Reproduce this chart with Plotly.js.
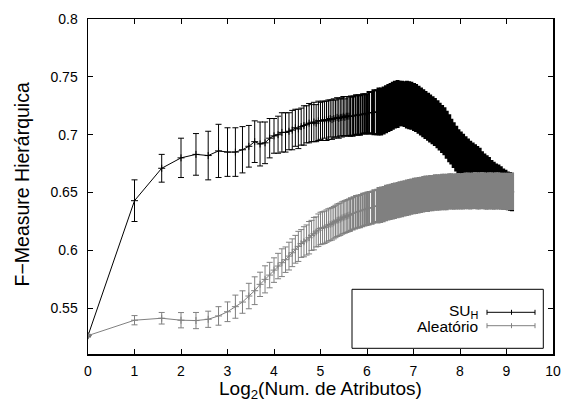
<!DOCTYPE html>
<html>
<head>
<meta charset="utf-8">
<script src="https://cdn.plot.ly/plotly-3.0.1.min.js"></script>
<style>html,body{margin:0;padding:0;background:#fff;}#chart{width:572px;height:403px;}</style>
</head>
<body>
<div id="chart"></div>
<script>
// Number of attributes (x is log2 of these)
const attrCounts = [
  1,2,3,4,5,6,7,8,9,10,11,12,13,14,15,16,17,18,19,20,21,22,23,24,25,
  26,27,28,29,30,31,32,33,34,35,36,37,38,39,40,41,42,43,44,45,46,47,48,49,
  50,52,54,56,58,60,62,64,66,69,
  71,74,76,79,82,85,88,91,94,97,
  101,104,108,112,116,120,124,129,133,138,
  143,148,153,159,164,170,176,183,189,196,
  203,210,218,225,233,242,250,259,268,278,
  288,298,309,320,331,343,355,368,381,394,
  409,423,438,454,470,487,504,522,540,556
];
const sparseCount = 49; // entries drawn as thin individual error bars
const midCount = 61;    // entries up to here drawn as medium bars, the rest as dense band

const suMean = [
  0.5264,0.643,0.671,0.680,0.683,0.682,0.686,0.685,0.685,0.687,
  0.690,0.694,0.692,0.693,0.697,0.699,0.700,0.702,0.702,0.703,
  0.704,0.706,0.705,0.707,0.708,0.709,0.710,0.710,0.711,0.710,
  0.712,0.712,0.712,0.713,0.712,0.713,0.714,0.713,0.714,0.714,
  0.715,0.714,0.715,0.715,0.716,0.715,0.716,0.716,0.716,
  0.716,0.716,0.717,0.717,0.717,0.718,0.718,0.718,0.719,0.719,
  0.7195,0.7195,0.720,0.720,0.721,0.722,0.723,0.724,0.725,0.726,
  0.7265,0.727,0.727,0.7265,0.726,0.7255,0.725,0.724,0.723,0.7215,
  0.720,0.7185,0.717,0.7155,0.714,0.7125,0.711,0.709,0.707,0.705,
  0.703,0.700,0.697,0.694,0.691,0.688,0.685,0.683,0.681,0.679,
  0.677,0.675,0.6735,0.672,0.6705,0.669,0.667,0.665,0.6635,0.662,
  0.6605,0.659,0.6575,0.6565,0.655,0.6535,0.6525,0.6515,0.651,0.6505
];
const suErr = [
  0.001,0.018,0.012,0.017,0.018,0.021,0.023,0.021,0.021,0.020,
  0.018,0.018,0.019,0.018,0.017,0.015,0.016,0.017,0.017,0.016,
  0.017,0.016,0.017,0.016,0.017,0.016,0.017,0.016,0.017,0.016,
  0.017,0.016,0.017,0.016,0.017,0.017,0.016,0.017,0.017,0.016,
  0.017,0.017,0.016,0.017,0.017,0.016,0.017,0.017,0.017,
  0.017,0.017,0.017,0.017,0.017,0.017,0.017,0.017,0.018,0.018,
  0.019,0.019,0.019,0.019,0.019,0.019,0.019,0.019,0.019,0.019,
  0.019,0.018,0.018,0.018,0.019,0.019,0.019,0.019,0.019,0.019,
  0.019,0.019,0.019,0.019,0.019,0.019,0.019,0.019,0.019,0.019,
  0.019,0.019,0.019,0.018,0.018,0.018,0.018,0.018,0.018,0.018,
  0.018,0.018,0.018,0.018,0.018,0.018,0.017,0.017,0.017,0.017,
  0.016,0.016,0.016,0.016,0.016,0.0155,0.0155,0.015,0.015,0.015
];
const alMean = [
  0.5264,0.5397,0.5414,0.5397,0.5394,0.5405,0.5434,0.547,0.5514,0.5554,
  0.5606,0.5652,0.5707,0.575,0.5787,0.583,0.5865,0.5894,0.592,0.5951,
  0.598,0.601,0.6035,0.606,0.6075,0.609,0.611,0.613,0.6145,0.616,
  0.6175,0.619,0.6195,0.620,0.621,0.622,0.6225,0.623,0.624,0.625,
  0.626,0.6265,0.627,0.628,0.6285,0.629,0.6295,0.630,0.6305,
  0.631,0.632,0.633,0.6335,0.634,0.635,0.6355,0.636,0.6365,0.637,
  0.638,0.6385,0.639,0.6395,0.640,0.641,0.6415,0.642,0.6425,0.643,
  0.6435,0.644,0.6445,0.645,0.6455,0.646,0.6465,0.647,0.6472,0.6477,
  0.648,0.6485,0.649,0.649,0.6495,0.6495,0.650,0.650,0.6502,0.6505,
  0.6505,0.6505,0.651,0.651,0.6508,0.651,0.6512,0.651,0.6512,0.6515,
  0.6515,0.6512,0.6515,0.6518,0.6515,0.6515,0.6518,0.6515,0.6512,0.6515,
  0.6515,0.6512,0.6515,0.6515,0.6512,0.651,0.6512,0.651,0.651,0.651
];
const alErr = [
  0.001,0.004,0.005,0.0066,0.007,0.007,0.008,0.0085,0.010,0.0097,
  0.011,0.012,0.0105,0.0117,0.011,0.0106,0.011,0.012,0.011,0.012,
  0.012,0.012,0.013,0.012,0.013,0.013,0.014,0.013,0.014,0.013,
  0.014,0.014,0.014,0.014,0.014,0.014,0.014,0.014,0.014,0.014,
  0.014,0.014,0.014,0.014,0.014,0.014,0.014,0.014,0.014,
  0.014,0.014,0.014,0.014,0.014,0.014,0.014,0.014,0.014,0.014,
  0.014,0.014,0.014,0.014,0.014,0.014,0.014,0.014,0.014,0.014,
  0.014,0.014,0.014,0.014,0.014,0.014,0.014,0.014,0.014,0.014,
  0.014,0.014,0.014,0.014,0.014,0.014,0.014,0.014,0.014,0.014,
  0.014,0.014,0.014,0.014,0.014,0.014,0.014,0.014,0.014,0.0142,
  0.0142,0.0142,0.0142,0.0142,0.0143,0.0143,0.0143,0.0143,0.0143,0.0143,
  0.0143,0.0143,0.0143,0.0143,0.0143,0.0143,0.0143,0.0143,0.0143,0.0143
];

const seriesNames = ['SU<sub>H</sub>', 'Aleatório'];
const seriesColors = ['#000000', '#808080'];

const xAll = attrCounts.map(n => Math.log2(n));

function barTrace(i0, i1, mean, err, color, thick, capw, msize) {
  return { x: xAll.slice(i0, i1), y: mean.slice(i0, i1), type: 'scatter', mode: 'markers',
    marker: { symbol: 'cross-thin-open', size: msize, line: { width: 1, color: color }, color: color },
    error_y: { type: 'data', array: err.slice(i0, i1), visible: true, color: color, thickness: thick, width: capw },
    showlegend: false, hoverinfo: 'skip' };
}

function seriesTraces(mean, err, color) {
  return [
    barTrace(0, sparseCount, mean, err, color, 1, 3, 5),
    barTrace(sparseCount, midCount, mean, err, color, 2, 2.5, 3),
    barTrace(midCount, attrCounts.length, mean, err, color, 4, 2, 3),
    { x: xAll, y: mean, type: 'scatter', mode: 'lines',
      line: { color: color, width: 1 }, showlegend: false, hoverinfo: 'skip' }
  ];
}

const data = [].concat(
  seriesTraces(suMean, suErr, seriesColors[0]),
  seriesTraces(alMean, alErr, seriesColors[1])
);

const W = 465, H = 335; // plot area size in px
const px = v => (v - 88) / W;        // pixel x -> paper
const py = v => (354 - v) / H;       // pixel y -> paper

const fontFam = 'Liberation Sans, Arial, Helvetica, sans-serif';

const shapes = [
  { type: 'rect', xref: 'paper', yref: 'paper', x0: px(352), x1: px(543.3), y0: py(348.3), y1: py(289.3),
    line: { color: '#000', width: 1 }, fillcolor: '#fff' }
];
const legendRows = [312.3, 325.7];
legendRows.forEach((yy, i) => {
  const c = seriesColors[i];
  shapes.push({ type: 'line', xref: 'paper', yref: 'paper', x0: px(487), x1: px(535), y0: py(yy), y1: py(yy), line: { color: c, width: 1 } });
  [487, 511.5, 535].forEach(xx => {
    shapes.push({ type: 'line', xref: 'paper', yref: 'paper', x0: px(xx), x1: px(xx), y0: py(yy - 2.5), y1: py(yy + 2.5), line: { color: c, width: 1 } });
  });
});

const annotations = [
  { xref: 'paper', yref: 'paper', x: 0.5, y: py(390), xanchor: 'center', yanchor: 'middle',
    text: 'Log<sub>2</sub>(Num. de Atributos)', showarrow: false, font: { family: fontFam, size: 19, color: '#000' } },
  { xref: 'paper', yref: 'paper', x: px(21.5), y: py(185), xanchor: 'center', yanchor: 'middle', textangle: -90,
    text: 'F\u2212Measure Hierárquica', showarrow: false, font: { family: fontFam, size: 19.5, color: '#000' } },
  { xref: 'paper', yref: 'paper', x: px(480), y: py(legendRows[0] - 1), xanchor: 'right', yanchor: 'middle',
    text: seriesNames[0], showarrow: false, font: { family: fontFam, size: 15.5, color: '#000' } },
  { xref: 'paper', yref: 'paper', x: px(480), y: py(legendRows[1] + 1), xanchor: 'right', yanchor: 'middle',
    text: seriesNames[1], showarrow: false, font: { family: fontFam, size: 15.5, color: '#000' } }
];

const axisCommon = {
  showgrid: false, zeroline: false, showline: true, linecolor: '#000', linewidth: 1.5,
  mirror: 'ticks', ticks: 'inside', ticklen: 5, tickwidth: 1, tickcolor: '#000',
  tickfont: { family: fontFam, size: 14, color: '#000' }
};

const layout = {
  width: 572, height: 403,
  margin: { l: 88, r: 19, t: 19, b: 49, pad: 0 },
  paper_bgcolor: '#fff', plot_bgcolor: '#fff',
  showlegend: false,
  xaxis: Object.assign({}, axisCommon, { range: [0, 10], tickmode: 'array',
    tickvals: [0,1,2,3,4,5,6,7,8,9,10], ticktext: ['0','1','2','3','4','5','6','7','8','9','10'], ticklabelstandoff: 4 }),
  yaxis: Object.assign({}, axisCommon, { range: [0.5105, 0.8], tickmode: 'array',
    tickvals: [0.55,0.6,0.65,0.7,0.75,0.8], ticktext: ['0.55','0.6','0.65','0.7','0.75','0.8'], ticklabelstandoff: 6 }),
  shapes: shapes,
  annotations: annotations
};

Plotly.newPlot('chart', data, layout, { staticPlot: true, displayModeBar: false });
</script>
</body>
</html>
